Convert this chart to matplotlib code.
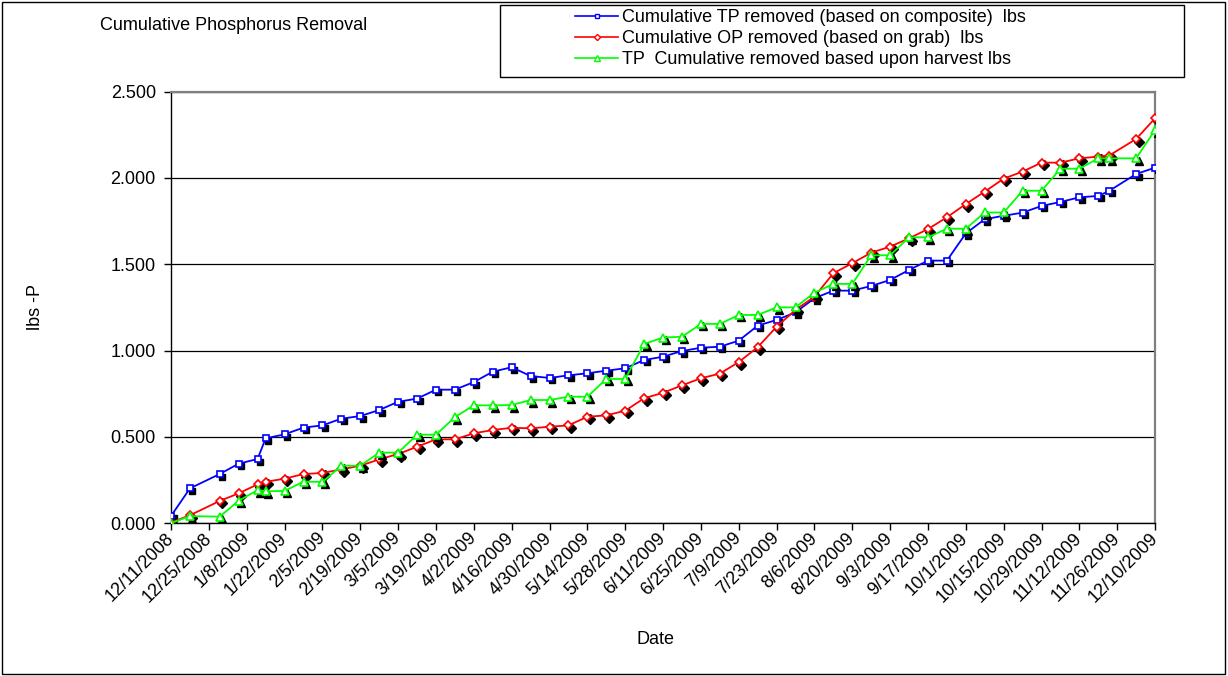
import matplotlib
matplotlib.use('Agg')
import matplotlib.pyplot as plt
import matplotlib.transforms as mtransforms
from matplotlib.lines import Line2D
from matplotlib.patches import Rectangle
from matplotlib.ticker import FormatStrFormatter, FixedLocator
import pandas as pd

plt.rcParams['font.family'] = ['Liberation Sans', 'DejaVu Sans']

# sample dates (mostly weekly)
dates = ['12/11/2008', '12/18/2008', '12/29/2008', '1/5/2009', '1/12/2009', '1/15/2009',
         '1/22/2009', '1/29/2009', '2/5/2009', '2/12/2009', '2/19/2009', '2/26/2009',
         '3/5/2009', '3/12/2009', '3/19/2009', '3/26/2009', '4/2/2009', '4/9/2009',
         '4/16/2009', '4/23/2009', '4/30/2009', '5/7/2009', '5/14/2009', '5/21/2009',
         '5/28/2009', '6/4/2009', '6/11/2009', '6/18/2009', '6/25/2009', '7/2/2009',
         '7/9/2009', '7/16/2009', '7/23/2009', '7/30/2009', '8/6/2009', '8/13/2009',
         '8/20/2009', '8/27/2009', '9/3/2009', '9/10/2009', '9/17/2009', '9/24/2009',
         '10/1/2009', '10/8/2009', '10/15/2009', '10/22/2009', '10/29/2009', '11/5/2009',
         '11/12/2009', '11/19/2009', '11/23/2009', '12/3/2009', '12/10/2009']

tp_composite = [0.041, 0.201, 0.284, 0.344, 0.371, 0.491, 0.514, 0.553, 0.566, 0.605,
                0.620, 0.655, 0.703, 0.721, 0.773, 0.773, 0.817, 0.877, 0.903, 0.852,
                0.841, 0.856, 0.868, 0.883, 0.897, 0.945, 0.964, 0.997, 1.016, 1.022,
                1.057, 1.144, 1.177, 1.221, 1.303, 1.347, 1.347, 1.374, 1.409, 1.467,
                1.521, 1.521, 1.679, 1.761, 1.781, 1.799, 1.838, 1.861, 1.888, 1.896,
                1.925, 2.023, 2.060]

op_grab = [0.003, 0.045, 0.128, 0.172, 0.224, 0.239, 0.257, 0.284, 0.290, 0.311,
           0.332, 0.369, 0.400, 0.442, 0.485, 0.485, 0.520, 0.539, 0.552, 0.549,
           0.558, 0.566, 0.616, 0.624, 0.651, 0.723, 0.755, 0.798, 0.839, 0.866,
           0.933, 1.019, 1.138, 1.235, 1.312, 1.448, 1.506, 1.567, 1.602, 1.650,
           1.704, 1.772, 1.849, 1.921, 1.996, 2.037, 2.089, 2.089, 2.114, 2.124,
           2.130, 2.226, 2.346]

tp_harvest = [0.000, 0.040, 0.037, 0.129, 0.191, 0.184, 0.186, 0.240, 0.238, 0.332,
              0.332, 0.408, 0.408, 0.512, 0.512, 0.614, 0.682, 0.682, 0.684, 0.713,
              0.713, 0.732, 0.732, 0.835, 0.835, 1.038, 1.075, 1.080, 1.154, 1.154,
              1.206, 1.206, 1.250, 1.250, 1.335, 1.386, 1.386, 1.552, 1.552, 1.656,
              1.656, 1.706, 1.706, 1.800, 1.800, 1.926, 1.926, 2.054, 2.054, 2.114,
              2.114, 2.114, 2.278]

labels = ['Cumulative TP removed (based on composite)  lbs',
          'Cumulative OP removed (based on grab)  lbs',
          'TP  Cumulative removed based upon harvest lbs']

x = pd.to_datetime(dates, format='%m/%d/%Y')
ticks = pd.date_range('2008-12-11', '2009-12-10', freq='14D')

fig = plt.figure(figsize=(12.28, 6.76), dpi=100)
ax = fig.add_axes([0.1393, 0.2263, 0.8013, 0.638])

shadow = mtransforms.offset_copy(ax.transData, fig=fig, x=2.5, y=-2.5, units='dots')

series = [(tp_composite, '#0000FF', 's', 4.2),
          (op_grab, '#FF0000', 'D', 3.8),
          (tp_harvest, '#00FF00', '^', 5.2)]
handles = []
z = 3
for (vals, col, mk, ms), lab in zip(series, labels):
    ax.plot(x, vals, ls='none', marker=mk, ms=ms + 0.8, color='black',
            transform=shadow, zorder=z)
    ax.plot(x, vals, color=col, lw=1.3, marker=mk, ms=ms, mfc='white',
            mec=col, mew=1.2, zorder=z + 0.5)
    handles.append(Line2D([], [], color=col, lw=1.2, marker=mk, ms=ms - 0.7,
                          mfc='white', mec=col, mew=1.0))
    z += 1

ax.set_xlim(ticks[0], ticks[-1])
ax.set_ylim(0, 2.5)
ax.set_yticks([0, 0.5, 1.0, 1.5, 2.0, 2.5])
ax.yaxis.set_major_formatter(FormatStrFormatter('%.3f'))
ax.xaxis.set_major_locator(FixedLocator(matplotlib.dates.date2num(ticks)))
ax.set_xticklabels([f'{d.month}/{d.day}/{d.year}' for d in ticks],
                   rotation=45, ha='right', va='center', rotation_mode='anchor')
ax.tick_params(axis='both', direction='out', length=5, width=1, labelsize=13,
               color='black')
ax.tick_params(axis='x', pad=4)
ax.tick_params(axis='y', pad=6)

ax.grid(axis='y', color='black', lw=0.9)
ax.set_axisbelow(True)
for s in ['left', 'bottom']:
    ax.spines[s].set_color('black')
    ax.spines[s].set_linewidth(1.0)
for s in ['top', 'right']:
    ax.spines[s].set_color('#808080')
    ax.spines[s].set_linewidth(1.6)

ax.set_ylabel('lbs -P', fontsize=13)
ax.yaxis.set_label_coords(-0.129, 0.5)
ax.set_xlabel('Date', fontsize=13)
ax.xaxis.set_label_coords(0.492, -0.25)

fig.text(100 / 1228, 1 - 25 / 676, 'Cumulative Phosphorus Removal', fontsize=13,
         ha='left', va='center')

# legend box
fig.patches.append(Rectangle((500 / 1228, 1 - 77 / 676), 684 / 1228, 72 / 676,
                             transform=fig.transFigure, fill=False,
                             edgecolor='black', lw=1.0))
fig.legend(handles, labels, loc='upper left', frameon=False, fontsize=13,
           bbox_to_anchor=(575 / 1228, 1 - 9 / 676), borderpad=0, borderaxespad=0,
           handlelength=2.4, handletextpad=0.2, labelspacing=0.22)

# outer chart border
fig.patches.append(Rectangle((2 / 1228, 2 / 676), 1223 / 1228, 672 / 676,
                             transform=fig.transFigure, fill=False,
                             edgecolor='black', lw=1.0))

fig.savefig('out.png', dpi=100)
